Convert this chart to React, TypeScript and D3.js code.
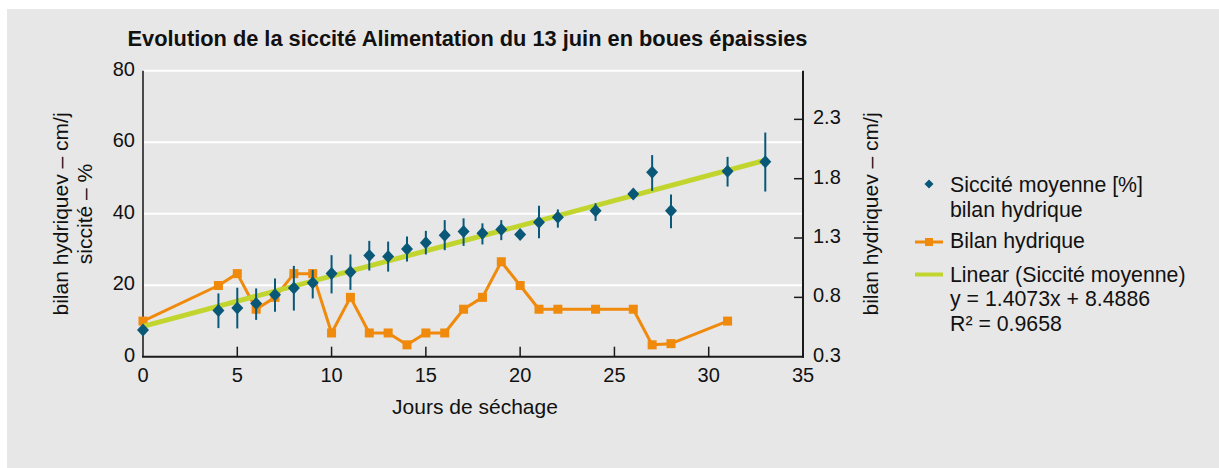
import React from "react";
import * as d3 from "d3";

const title = "Evolution de la siccité Alimentation du 13 juin en boues épaissies";
const xTitle = "Jours de séchage";
const yLeftTitle = ["bilan hydriquev – cm/j", "siccité – %"];
const yRightTitle = "bilan hydriquev – cm/j";

const sicciteDays = [0, 4, 5, 6, 7, 8, 9, 10, 11, 12, 13, 14, 15, 16, 17, 18, 19, 20, 21, 22, 24, 26, 27, 28, 31, 33];
const sicciteValues = [7.5, 12.9, 13.6, 14.9, 17.3, 19.2, 20.7, 23.3, 23.7, 28.3, 28.0, 30.1, 31.9, 34.0, 35.0, 34.5, 35.6, 34.2, 37.6, 39.0, 40.8, 45.5, 51.6, 40.8, 51.9, 54.5];
const sicciteErrLow = [0, 4.9, 5.7, 4.6, 4.7, 6.3, 4.4, 5.6, 5.0, 4.2, 4.2, 3.5, 3.3, 4.2, 4.0, 3.1, 3.0, 1.2, 4.5, 2.9, 2.8, 1.0, 5.2, 4.9, 4.3, 8.3];
const sicciteErrHigh = [0, 4.8, 5.7, 4.2, 4.6, 6.2, 3.6, 5.1, 4.9, 4.1, 4.2, 3.5, 3.3, 4.2, 3.7, 2.8, 2.6, 1.0, 4.6, 2.2, 2.1, 1.0, 4.8, 4.6, 4.0, 8.2];

const bilanDays = [0, 4, 5, 6, 7, 8, 9, 10, 11, 12, 13, 14, 15, 16, 17, 18, 19, 20, 21, 22, 24, 26, 27, 28, 31];
const bilanValues = [0.6, 0.9, 1.0, 0.7, 0.8, 1.0, 1.0, 0.5, 0.8, 0.5, 0.5, 0.4, 0.5, 0.5, 0.7, 0.8, 1.1, 0.9, 0.7, 0.7, 0.7, 0.7, 0.4, 0.41, 0.6];

const trendSlope = 1.4073;
const trendIntercept = 8.4886;
const trendRange = [0, 33];

const xTicks = [0, 5, 10, 15, 20, 25, 30, 35];
const yLeftTicks = [0, 20, 40, 60, 80];
const yRightTicks = [0.3, 0.8, 1.3, 1.8, 2.3];

const legendLabels = {
  siccite: ["Siccité moyenne [%]", "bilan hydrique"],
  bilan: "Bilan hydrique",
  linear: ["Linear (Siccité moyenne)", "y = 1.4073x + 8.4886", "R² = 0.9658"],
};

const BLUE = "#0a5877";
const ORANGE = "#f08a0c";
const GREEN = "#c1d52e";
const BG = "#e7e7e7";
const FONT = "'Liberation Sans', Arial, sans-serif";

export default function App() {
  const W = 1219;
  const H = 468;
  const left = 143, right = 803, top = 70.7, bottom = 356.7;

  const x = d3.scaleLinear().domain([0, 35]).range([left, right]);
  const yL = d3.scaleLinear().domain([0, 80]).range([bottom, top]);
  const yR = d3.scaleLinear().domain([0.3, 2.71]).range([bottom, top]);

  const bilanLine = d3
    .line<number>()
    .x((_, i) => x(bilanDays[i]))
    .y((v) => yR(v))(bilanValues) as string;

  const trendPts = trendRange.map((d) => [x(d), yL(trendSlope * d + trendIntercept)] as [number, number]);
  const trendPath = d3.line()(trendPts) as string;

  const diamond = (cx: number, cy: number, rx: number, ry: number) =>
    `M${cx},${cy - ry}L${cx + rx},${cy}L${cx},${cy + ry}L${cx - rx},${cy}Z`;

  const sq = 9;
  const lgX = 929;
  const lgFs = 21.3;

  return (
    <svg
      width={W}
      height={H}
      style={{ position: "absolute", left: 0, top: 0, fontFamily: FONT }}
    >
      <rect x={0} y={0} width={W} height={H} fill="#ffffff" />
      <rect x={7} y={9} width={W - 7} height={H - 9} fill={BG} />

      <text x={467.5} y={46} textAnchor="middle" fontSize={21.8} fontWeight="bold" fill="#111">
        {title}
      </text>

      {/* gridlines */}
      {yLeftTicks.filter((t) => t > 0).map((t) => (
        <line key={t} x1={left} x2={right} y1={yL(t)} y2={yL(t)} stroke="#ffffff" strokeWidth={2} />
      ))}

      {/* axes */}
      <line x1={left} x2={left} y1={top} y2={bottom} stroke="#4a4a4a" strokeWidth={2} />
      <line x1={right} x2={right} y1={top} y2={bottom + 1} stroke="#1a1a1a" strokeWidth={2} />
      <line x1={left - 1} x2={right + 1} y1={bottom} y2={bottom} stroke="#1a1a1a" strokeWidth={2} />

      {xTicks.filter((t) => t > 0 && t < 35).map((t) => (
        <line key={t} x1={x(t)} x2={x(t)} y1={bottom} y2={bottom - 10} stroke="#1a1a1a" strokeWidth={1.5} />
      ))}
      {yRightTicks.filter((t) => t > 0.3).map((t) => (
        <line key={t} x1={right} x2={right - 9} y1={yR(t)} y2={yR(t)} stroke="#1a1a1a" strokeWidth={1.5} />
      ))}

      {xTicks.map((t) => (
        <text key={t} x={x(t)} y={382} textAnchor="middle" fontSize={20} fill="#111">
          {t}
        </text>
      ))}
      {yLeftTicks.map((t) => (
        <text key={t} x={135} y={yL(t) + 5} textAnchor="end" fontSize={20} fill="#111">
          {t}
        </text>
      ))}
      {yRightTicks.map((t) => (
        <text key={t} x={813} y={yR(t) + 5} textAnchor="start" fontSize={20} fill="#111">
          {d3.format(".1f")(t)}
        </text>
      ))}

      <text x={475} y={414} textAnchor="middle" fontSize={21} fill="#111">
        {xTitle}
      </text>
      <text transform={`translate(68,214) rotate(-90)`} textAnchor="middle" fontSize={21} fill="#111">
        {yLeftTitle[0]}
      </text>
      <text transform={`translate(92,214) rotate(-90)`} textAnchor="middle" fontSize={21} fill="#111">
        {yLeftTitle[1]}
      </text>
      <text transform={`translate(878,214) rotate(-90)`} textAnchor="middle" fontSize={21} fill="#111">
        {yRightTitle}
      </text>

      {/* bilan hydrique */}
      <path d={bilanLine} fill="none" stroke={ORANGE} strokeWidth={3} strokeLinejoin="round" />
      {bilanValues.map((v, i) => (
        <rect key={i} x={x(bilanDays[i]) - sq / 2} y={yR(v) - sq / 2} width={sq} height={sq} fill={ORANGE} />
      ))}

      {/* trend line */}
      <path d={trendPath} fill="none" stroke={GREEN} strokeWidth={5} />

      {/* siccité with error bars */}
      {sicciteValues.map((v, i) =>
        sicciteErrLow[i] + sicciteErrHigh[i] > 0 ? (
          <line
            key={"e" + i}
            x1={x(sicciteDays[i])}
            x2={x(sicciteDays[i])}
            y1={yL(v - sicciteErrLow[i])}
            y2={yL(v + sicciteErrHigh[i])}
            stroke={BLUE}
            strokeWidth={2}
          />
        ) : null
      )}
      {sicciteValues.map((v, i) => (
        <path key={"d" + i} d={diamond(x(sicciteDays[i]), yL(v), 6, 6.5)} fill={BLUE} />
      ))}

      {/* legend */}
      <path d={diamond(lgX, 184, 4.5, 4.5)} fill={BLUE} />
      <text x={950} y={192} fontSize={lgFs} fill="#111">{legendLabels.siccite[0]}</text>
      <text x={950} y={217} fontSize={lgFs} fill="#111">{legendLabels.siccite[1]}</text>

      <line x1={915} x2={943} y1={242} y2={242} stroke={ORANGE} strokeWidth={3} />
      <rect x={lgX - 4} y={238} width={8} height={8} fill={ORANGE} />
      <text x={950} y={248} fontSize={lgFs} fill="#111">{legendLabels.bilan}</text>

      <line x1={915} x2={943} y1={274.5} y2={274.5} stroke={GREEN} strokeWidth={4} />
      <text x={950} y={282} fontSize={lgFs} fill="#111">{legendLabels.linear[0]}</text>
      <text x={950} y={306} fontSize={lgFs} fill="#111">{legendLabels.linear[1]}</text>
      <text x={950} y={331} fontSize={lgFs} fill="#111">{legendLabels.linear[2]}</text>
    </svg>
  );
}
